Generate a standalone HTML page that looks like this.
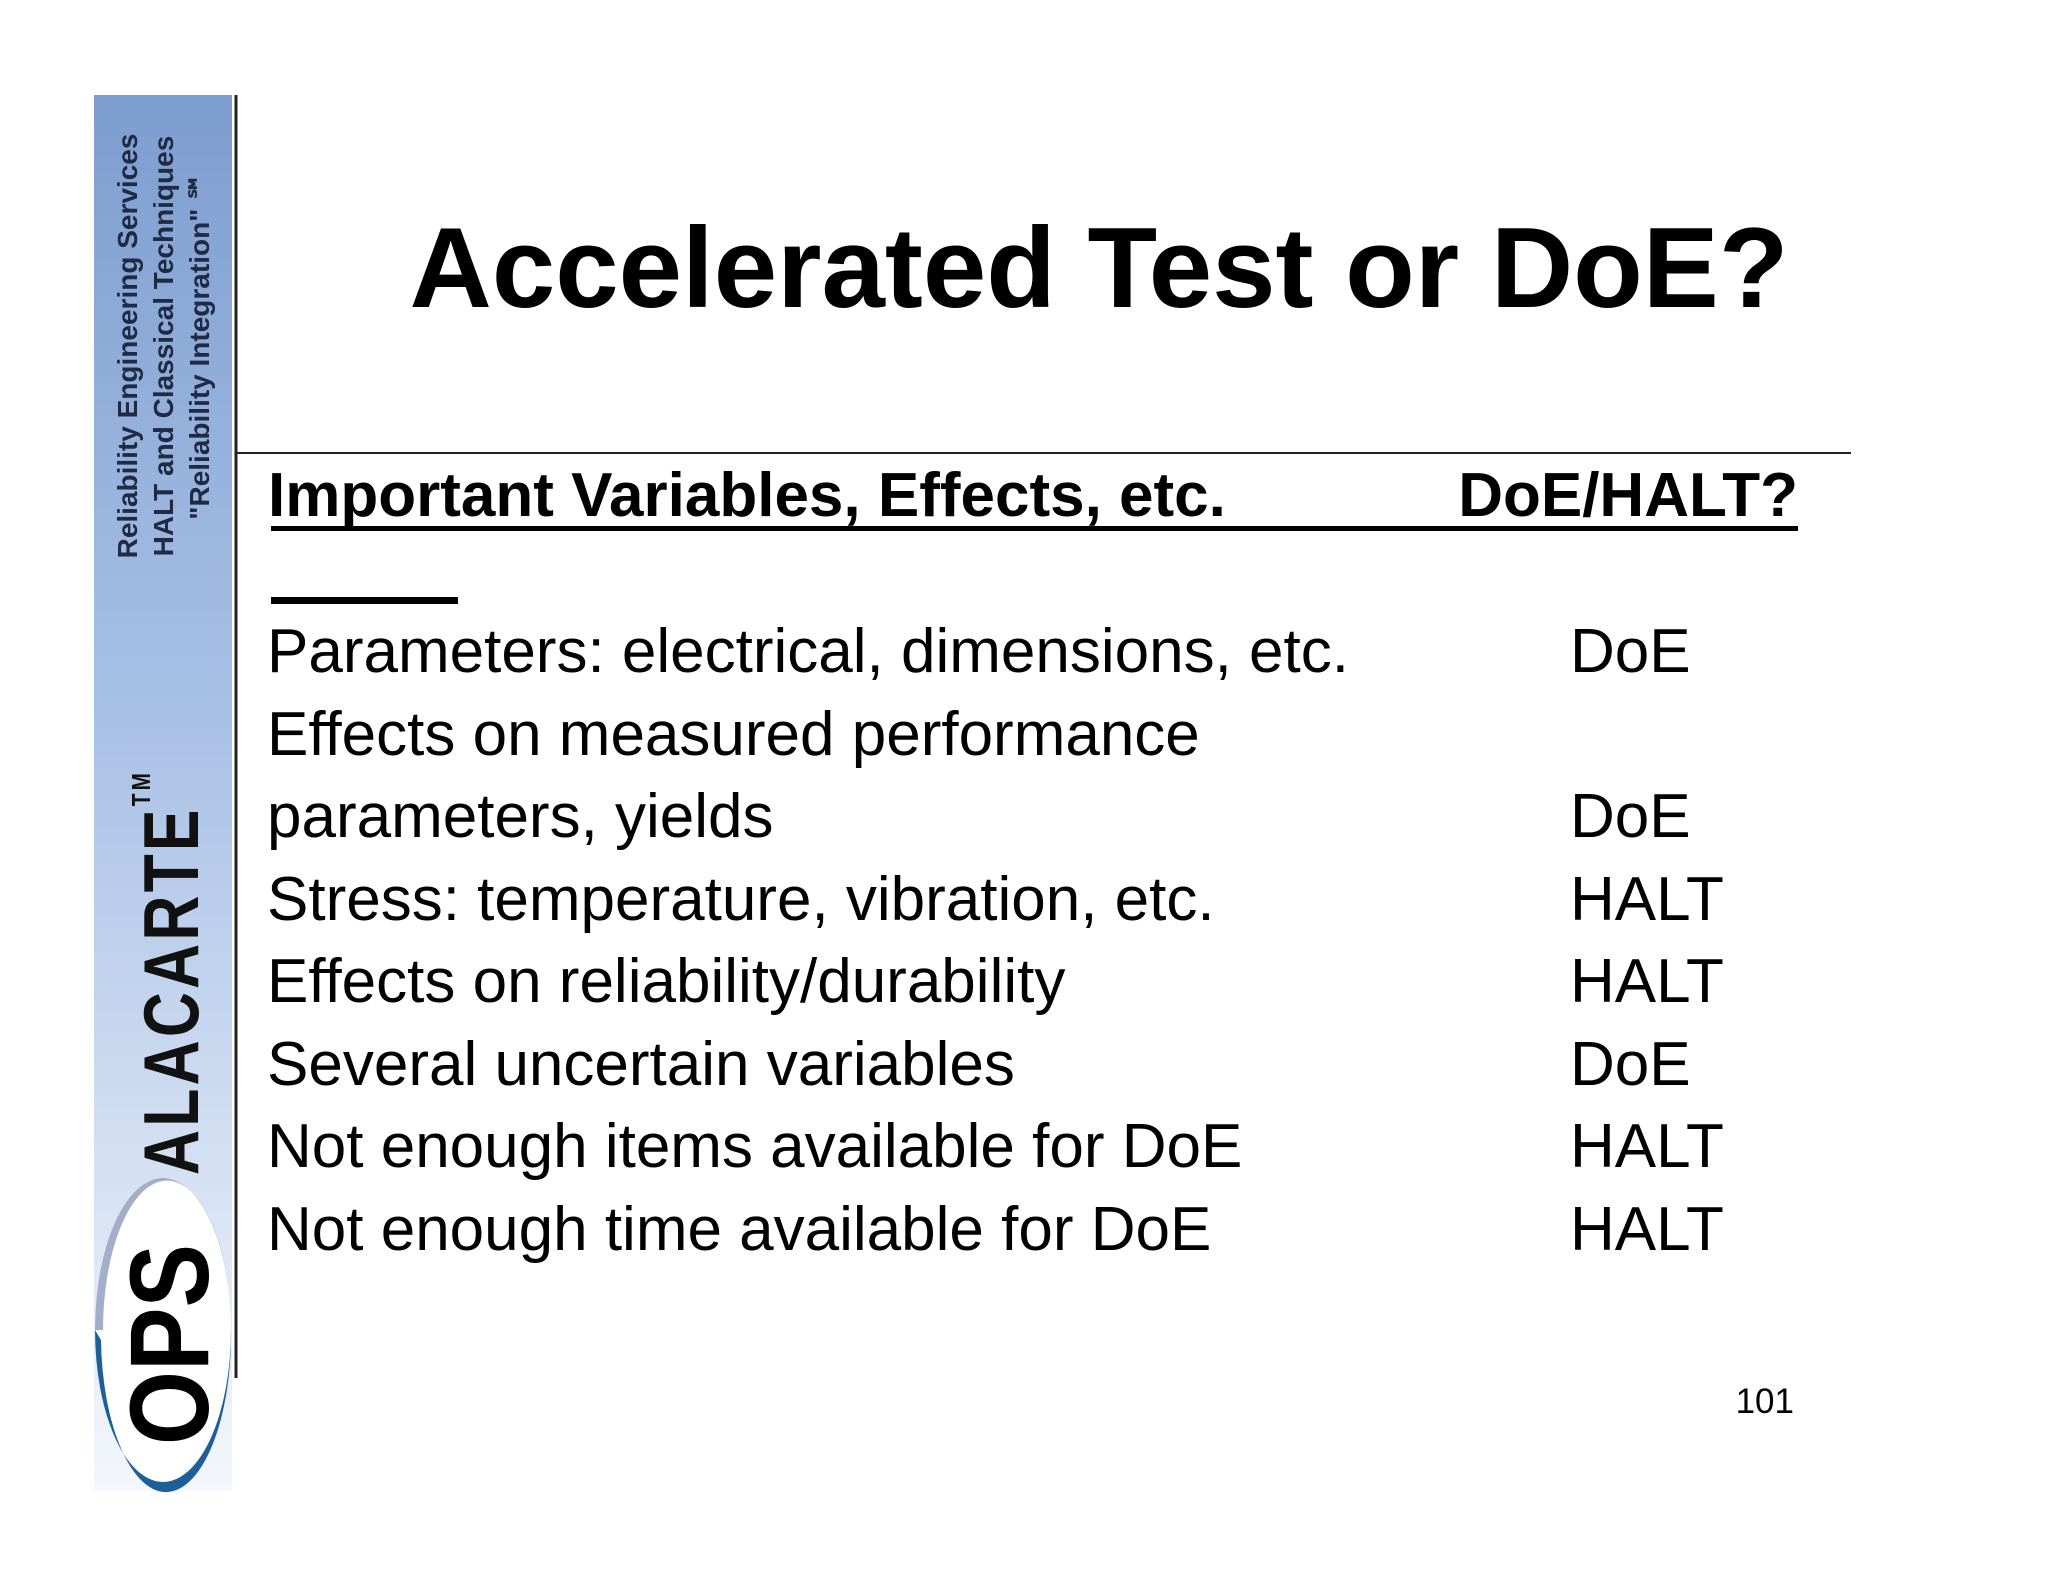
<!DOCTYPE html>
<html><head><meta charset="utf-8"><style>
html,body{margin:0;padding:0;background:#fff;}
body{width:2048px;height:1582px;position:relative;overflow:hidden;font-family:"Liberation Sans",Arial,sans-serif;}
.abs{position:absolute;}
.row{position:absolute;left:267px;font-size:62px;color:#000;white-space:nowrap;line-height:1;}
.val{position:absolute;left:1570px;font-size:62px;color:#000;white-space:nowrap;line-height:1;}
</style></head><body>
<svg class="abs" style="left:0;top:0" width="2048" height="1582">
<defs>
<linearGradient id="g" x1="0" y1="0" x2="0" y2="1">
<stop offset="0" stop-color="#7d9dcf"/><stop offset="0.45" stop-color="#a9c1e6"/><stop offset="1" stop-color="#f4f7fc"/>
</linearGradient>
</defs>
<rect x="94" y="95" width="138" height="1396" fill="url(#g)"/>
<g font-family="Liberation Sans, sans-serif" font-weight="bold" fill="#1f2a44" font-size="28">
<text transform="translate(137,346) rotate(-90)" text-anchor="middle">Reliability Engineering Services</text>
<text transform="translate(173,346) rotate(-90)" text-anchor="middle">HALT and Classical Techniques</text>
<text transform="translate(209,346) rotate(-90)" text-anchor="middle">"Reliability Integration" ℠</text>
</g>
<text transform="translate(198,1175) rotate(-90) scale(0.8,1)" font-family="Liberation Sans, sans-serif" font-weight="bold" font-size="78" letter-spacing="4" fill="#111">ALACARTE<tspan font-size="26" dy="-48">TM</tspan></text>
<ellipse cx="163" cy="1330" rx="68" ry="152" fill="#fff"/>
<path d="M95,1330 A68,152 0 0 1 231,1330 A60,140 0 0 0 103,1330 Z" fill="#a4aec8"/>
<path d="M95,1330 A68,152 0 0 0 231,1330 A60,145 0 0 1 101,1340 Z" fill="#1d5f98"/>
<text transform="translate(208,1445) rotate(-90) scale(0.85,1)" font-family="Liberation Sans, sans-serif" font-weight="bold" font-size="112" fill="#000">OPS</text>
<line x1="236" y1="95" x2="236" y2="1378" stroke="#222" stroke-width="3"/>
<line x1="236" y1="453" x2="1851" y2="453" stroke="#222" stroke-width="2"/>
<rect x="271" y="597" width="187" height="7" fill="#000"/>
<rect x="271" y="526" width="1527" height="5" fill="#000"/>
</svg>
<div class="abs" style="left:0;width:2198px;text-align:center;top:212px;font-size:114px;font-weight:bold;line-height:1;">Accelerated Test or DoE?</div>
<div class="abs" style="left:268px;top:465px;font-size:62px;font-weight:bold;line-height:1;white-space:pre;">Important Variables, Effects, etc.</div>
<div class="abs" style="left:1430px;width:368px;text-align:right;top:465px;font-size:62px;font-weight:bold;line-height:1;">DoE/HALT?</div>
<div class="row" style="top:621px">Parameters: electrical, dimensions, etc.</div>
<div class="val" style="top:621px">DoE</div>
<div class="row" style="top:704px">Effects on measured performance</div>
<div class="row" style="top:786px">parameters, yields</div>
<div class="val" style="top:786px">DoE</div>
<div class="row" style="top:869px">Stress: temperature, vibration, etc.</div>
<div class="val" style="top:869px">HALT</div>
<div class="row" style="top:951px">Effects on reliability/durability</div>
<div class="val" style="top:951px">HALT</div>
<div class="row" style="top:1034px">Several uncertain variables</div>
<div class="val" style="top:1034px">DoE</div>
<div class="row" style="top:1116px">Not enough items available for DoE</div>
<div class="val" style="top:1116px">HALT</div>
<div class="row" style="top:1199px">Not enough time available for DoE</div>
<div class="val" style="top:1199px">HALT</div>
<div class="abs" style="left:1660px;width:134px;text-align:right;top:1384px;font-size:35px;line-height:1;">101</div>
</body></html>
